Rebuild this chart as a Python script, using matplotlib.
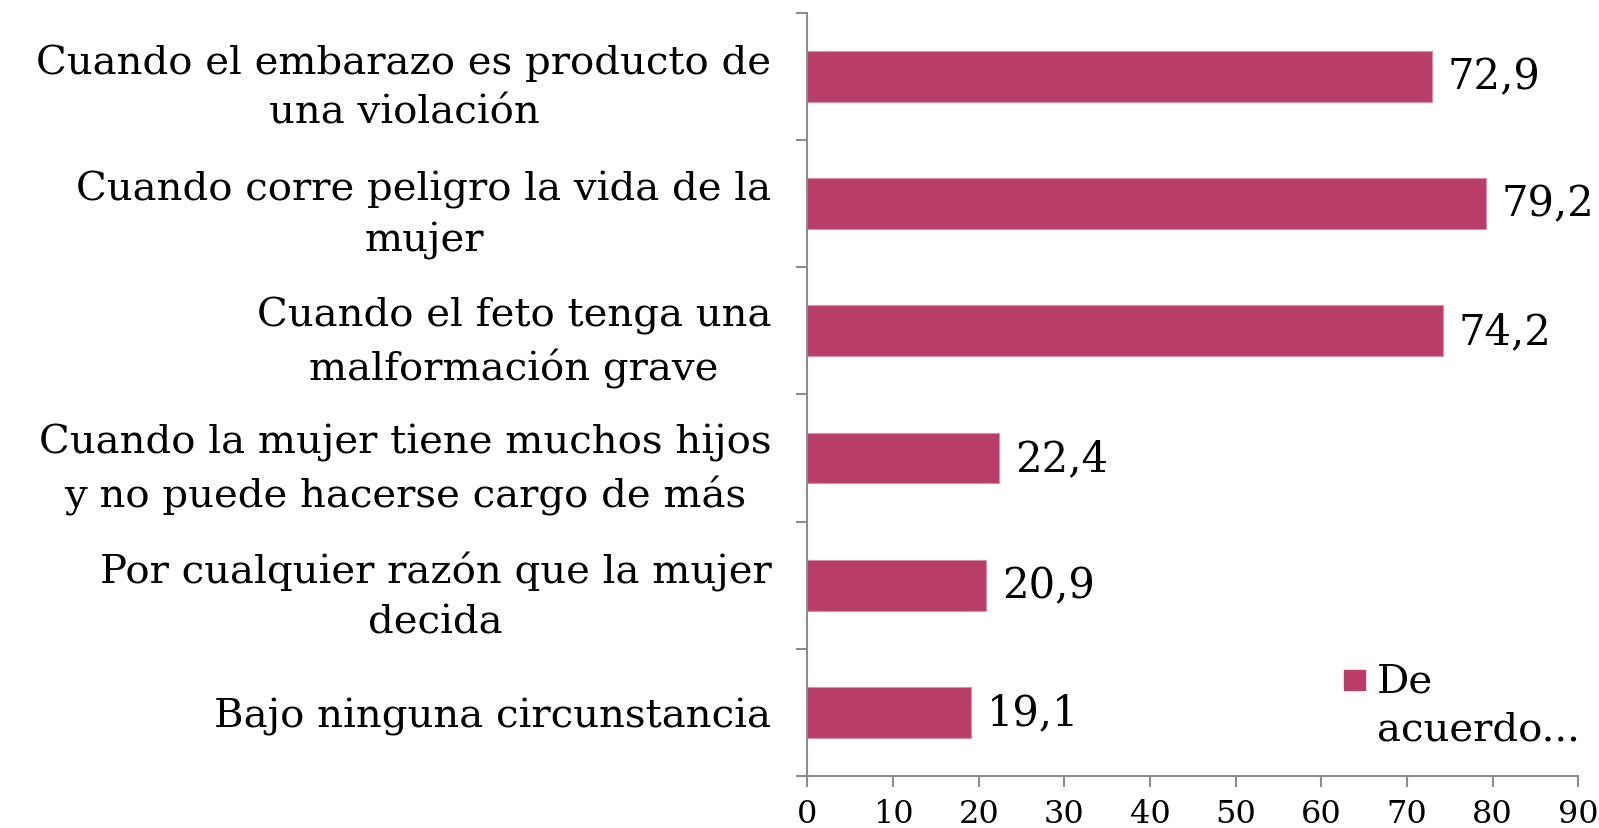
import matplotlib.pyplot as plt
from matplotlib.patches import Rectangle

# -----------------------------------
# DATA
# -----------------------------------

categories = [
    "Cuando el embarazo es producto de\nuna violación",
    "Cuando corre peligro la vida de la\nmujer",
    "Cuando el feto tenga una\nmalformación grave",
    "Cuando la mujer tiene muchos hijos\ny no puede hacerse cargo de más",
    "Por cualquier razón que la mujer\ndecida",
    "Bajo ninguna circunstancia",
]
values = [72.9, 79.2, 74.2, 22.4, 20.9, 19.1]
value_labels = ["72,9", "79,2", "74,2", "22,4", "20,9", "19,1"]
x_ticks = [0, 10, 20, 30, 40, 50, 60, 70, 80, 90]
series_name = "De\nacuerdo..."

bar_color = "#B83D68"
axis_color = "#8C8C8C"

plt.rcParams["font.family"] = ["DejaVu Serif"]

fig = plt.figure(figsize=(15.99, 8.29), dpi=100)
ax = fig.add_axes([0.505, 0.063, 0.482, 0.92])

pos = list(range(len(categories)))
ax.barh(pos, values, height=0.4, color=bar_color, edgecolor="#D88FA8", linewidth=0.8)

ax.set_xlim(0, 90)
ax.set_ylim(len(categories) - 0.5, -0.5)

for p, v, lab in zip(pos, values, value_labels):
    ax.text(v + 1.8, p, lab, va="center", ha="left", fontsize=30)

# category labels
ax.set_yticks(pos)
ax.set_yticklabels(categories, fontsize=29, multialignment="center", linespacing=1.45)
ax.tick_params(axis="y", length=0, pad=26)

# boundary ticks like excel
bounds = [i - 0.5 for i in range(len(categories) + 1)]
ax.set_yticks(bounds, minor=True)
ax.tick_params(axis="y", which="minor", length=8, color=axis_color, width=1.5)

ax.set_xticks(x_ticks)
ax.tick_params(axis="x", length=8, color=axis_color, width=1.5, labelsize=23, pad=8)

for s in ["top", "right"]:
    ax.spines[s].set_visible(False)
for s in ["left", "bottom"]:
    ax.spines[s].set_color(axis_color)
    ax.spines[s].set_linewidth(1.5)

# legend drawn by hand (square sits on the first line)
fig.patches.append(Rectangle((1344 / 1599, 1 - 691 / 829), 21 / 1599, 20 / 829,
                             transform=fig.transFigure, color=bar_color))
fig.text(1377 / 1599, 1 - 706 / 829, series_name, ha="left", va="center",
         fontsize=29, linespacing=1.4)

fig.savefig("out.png", dpi=100)
